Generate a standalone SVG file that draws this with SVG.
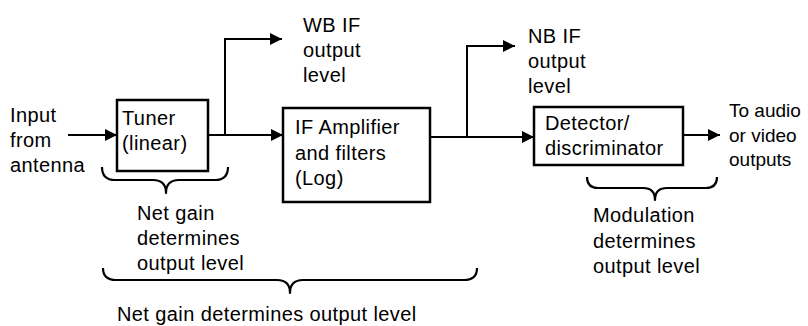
<svg xmlns="http://www.w3.org/2000/svg" width="808" height="326" viewBox="0 0 808 326">
<style>
text{font-family:"Liberation Sans",Arial,sans-serif;font-size:20px;letter-spacing:0.4px;fill:#000}
.tight{font-size:19px;letter-spacing:0}
.box{fill:#fff;stroke:#000;stroke-width:2.5}
.ln{fill:none;stroke:#000;stroke-width:2}
.br{fill:none;stroke:#000;stroke-width:2.2;stroke-linejoin:round}
</style>
<defs>
<marker id="ah" markerUnits="userSpaceOnUse" markerWidth="13" markerHeight="13" refX="12" refY="6" orient="auto">
<path d="M0,0 L12,6 L0,12 z" fill="#000"/>
</marker>
</defs>
<g id="connectors">
<path class="ln" d="M68,135 H117" marker-end="url(#ah)"/>
<path class="ln" d="M208,135 H283" marker-end="url(#ah)"/>
<path class="ln" d="M225,135 V39 H282" marker-end="url(#ah)"/>
<path class="ln" d="M430,137 H534" marker-end="url(#ah)"/>
<path class="ln" d="M467,137 V46 H515" marker-end="url(#ah)"/>
<path class="ln" d="M683,135 H720" marker-end="url(#ah)"/>
</g>
<g id="input-label">
<text x="10" y="122">Input</text>
<text x="10" y="147">from</text>
<text x="10" y="172">antenna</text>
</g>
<g id="tuner">
<rect class="box" x="117" y="100" width="91" height="71"/>
<text x="122" y="125">Tuner</text>
<text x="122" y="150">(linear)</text>
</g>
<g id="wb-if">
<text x="303" y="32">WB IF</text>
<text x="303" y="57">output</text>
<text x="303" y="82">level</text>
</g>
<g id="if-amp">
<rect class="box" x="283" y="108" width="147" height="94"/>
<text x="295" y="134">IF Amplifier</text>
<text x="295" y="160">and filters</text>
<text x="295" y="185">(Log)</text>
</g>
<g id="nb-if">
<text x="528" y="43">NB IF</text>
<text x="528" y="68">output</text>
<text x="528" y="93">level</text>
</g>
<g id="detector">
<rect class="box" x="534" y="107" width="149" height="58"/>
<text x="545" y="130">Detector/</text>
<text x="545" y="155">discriminator</text>
</g>
<g id="outputs">
<text class="tight" x="729" y="117">To audio</text>
<text class="tight" x="729" y="142">or video</text>
<text class="tight" x="729" y="166">outputs</text>
</g>
<g id="tuner-brace">
<path class="br" d="M102,167 Q102,180 115,180 H153 Q166,180 166,193 Q166,180 179,180 H215 Q228,180 228,167"/>
<text x="137" y="220">Net gain</text>
<text x="137" y="245">determines</text>
<text x="137" y="270">output level</text>
</g>
<g id="mod-brace">
<path class="br" d="M587,177 Q587,188 598,188 H643 Q655,188 655,200 Q655,188 667,188 H706 Q717,188 717,177"/>
<text x="593" y="222">Modulation</text>
<text x="593" y="248">determines</text>
<text x="593" y="273">output level</text>
</g>
<g id="total-brace">
<path class="br" d="M103,268 Q103,280 116,280 H277 Q290,280 290,293 Q290,280 303,280 H464 Q477,280 477,268"/>
<text x="117" y="321">Net gain determines output level</text>
</g>
</svg>
